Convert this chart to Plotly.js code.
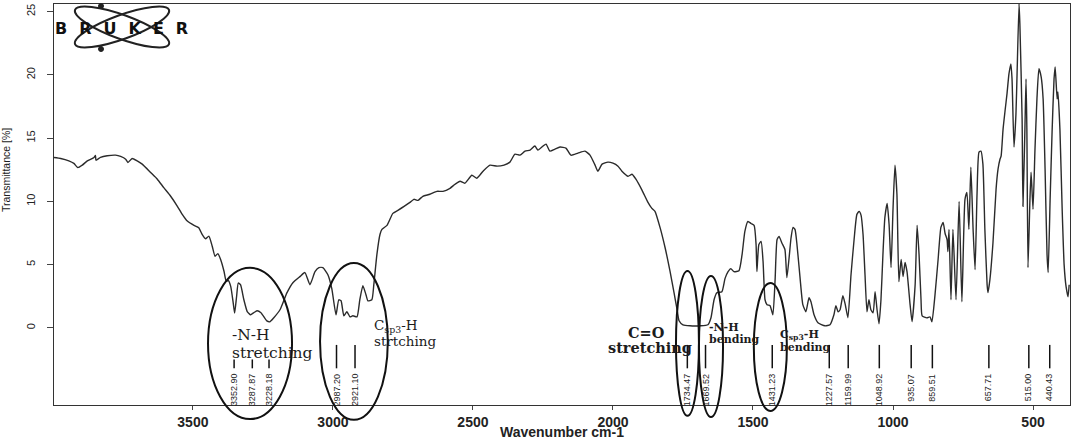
<!DOCTYPE html>
<html>
<head>
<meta charset="utf-8">
<script src="https://cdn.plot.ly/plotly-3.0.1.min.js"></script>
<style>
  html, body { margin: 0; padding: 0; background: #fff; }
  #chart { width: 1072px; height: 440px; }
</style>
</head>
<body>
<div id="chart"></div>
<script>
// FTIR spectrum
const wavenumber = [
  3996, 3972, 3943, 3925, 3911, 3895, 3877, 3853, 3848, 3846, 3830, 3806, 3776, 3758, 3740, 3732,
  3717, 3699, 3681, 3651, 3627, 3604, 3580, 3556, 3538, 3520, 3496, 3479, 3467, 3455, 3443, 3431,
  3421, 3411, 3401, 3389, 3381, 3374, 3365, 3356, 3351, 3344, 3338, 3330, 3318, 3306, 3294, 3289,
  3271, 3257, 3236, 3225, 3211, 3189, 3164, 3143, 3118, 3100, 3082, 3064, 3050, 3036, 3018, 3004,
  2989, 2979, 2971, 2961, 2950, 2939, 2929, 2914, 2904, 2893, 2882, 2875, 2861, 2854, 2843, 2832,
  2825, 2807, 2786, 2768, 2746, 2725, 2711, 2696, 2679, 2654, 2629, 2607, 2582, 2564, 2546, 2529,
  2504, 2486, 2464, 2439, 2414, 2389, 2368, 2350, 2332, 2314, 2296, 2279, 2268, 2250, 2239, 2225,
  2207, 2189, 2168, 2150, 2125, 2100, 2082, 2064, 2054, 2039, 2018, 2000, 1982, 1968, 1946, 1932,
  1918, 1896, 1875, 1861, 1850, 1832, 1814, 1796, 1782, 1771, 1764, 1750, 1725, 1689, 1661, 1650,
  1639, 1629, 1611, 1600, 1589, 1579, 1568, 1550, 1539, 1529, 1518, 1507, 1496, 1489, 1486, 1479,
  1471, 1464, 1457, 1450, 1439, 1429, 1421, 1414, 1407, 1396, 1386, 1379, 1371, 1364, 1357, 1350,
  1343, 1332, 1322, 1311, 1300, 1293, 1282, 1268, 1243, 1225, 1211, 1204, 1196, 1189, 1179, 1171,
  1161, 1150, 1139, 1129, 1121, 1114, 1107, 1100, 1093, 1086, 1079, 1071, 1064, 1057, 1050, 1043,
  1036, 1029, 1021, 1014, 1007, 1000, 993, 986, 979, 971, 964, 957, 950, 939, 932, 921,
  914, 907, 900, 896, 879, 868, 861, 850, 839, 829, 821, 814, 807, 804, 800, 793,
  786, 775, 764, 754, 743, 736, 729, 722, 714, 707, 700, 693, 686, 679, 672, 664,
  661, 654, 643, 632, 625, 618, 614, 607, 600, 593, 586, 579, 575, 568, 561, 557,
  550, 547, 539, 536, 529, 525, 522, 518, 511, 507, 500, 493, 486, 479, 471, 464,
  457, 450, 446, 439, 432, 425, 421, 414, 411, 404, 396, 389, 382, 375, 371
];
const transmittance = [
  13.47, 13.39, 13.20, 13.00, 12.67, 12.86, 13.20, 13.47, 13.62, 13.25, 13.47, 13.60, 13.65, 13.55, 13.33, 13.07,
  13.39, 13.20, 12.94, 12.28, 11.75, 11.08, 10.42, 9.63, 8.97, 8.44, 8.10, 7.91, 7.38, 7.04, 7.25, 6.45,
  5.66, 5.87, 5.40, 4.47, 3.68, 3.75, 3.28, 1.96, 1.16, 2.48, 3.54, 3.41, 2.22, 1.29, 1.03, 1.10,
  1.35, 1.20, 0.55, 0.48, 0.80, 1.43, 2.78, 3.57, 4.05, 4.37, 3.41, 4.44, 4.76, 4.76, 4.20, 3.10,
  1.03, 2.22, 2.14, 0.95, 1.27, 0.87, 0.95, 0.87, 2.22, 3.33, 2.62, 2.14, 2.22, 3.41, 5.79, 7.38,
  7.78, 8.10, 9.05, 9.29, 9.60, 9.92, 10.16, 10.08, 10.40, 10.56, 10.79, 10.79, 11.03, 11.35, 11.59, 11.43,
  12.06, 11.83, 12.38, 12.86, 12.78, 12.86, 13.10, 13.73, 13.65, 13.97, 14.05, 14.37, 14.05, 14.37, 14.52, 13.97,
  14.13, 14.29, 14.21, 13.65, 13.81, 13.97, 13.65, 12.86, 12.38, 12.94, 13.10, 13.02, 12.78, 12.38, 11.98, 12.14,
  11.75, 10.87, 9.92, 9.44, 9.21, 7.94, 6.35, 4.44, 2.78, 1.43, 0.56, 0.24, 0.16, 0.16, 0.24, 0.80,
  2.22, 2.78, 2.86, 3.89, 4.44, 4.68, 4.44, 4.52, 5.79, 7.62, 8.41, 8.25, 8.10, 6.59, 4.44, 6.59,
  6.83, 5.24, 2.22, 1.83, 1.75, 1.03, 3.81, 6.98, 7.22, 6.67, 6.19, 3.97, 5.56, 7.14, 7.94, 7.78,
  6.59, 3.97, 1.83, 1.27, 2.38, 2.06, 1.03, 0.40, 0.16, 0.24, 1.03, 1.75, 1.27, 1.43, 2.54, 1.90,
  0.80, 4.20, 6.98, 8.97, 9.21, 8.89, 7.38, 4.20, 1.27, 2.22, 1.43, 1.19, 2.86, 1.43, 0.32, 2.22,
  5.79, 8.73, 9.84, 8.17, 4.76, 9.37, 12.86, 10.56, 3.65, 5.40, 4.05, 5.16, 4.44, 1.83, 0.48, 3.41,
  8.10, 5.79, 2.22, 0.95, 0.79, 0.87, 0.48, 2.62, 5.40, 7.94, 8.33, 7.46, 6.98, 6.03, 7.78, 2.22,
  7.78, 2.22, 10.00, 2.06, 10.16, 10.71, 7.78, 12.70, 7.78, 4.60, 10.56, 13.89, 13.97, 12.94, 7.78, 3.41,
  2.78, 3.81, 6.75, 10.95, 12.54, 13.33, 13.57, 15.71, 17.14, 18.49, 20.08, 20.87, 19.68, 14.29, 16.90, 20.08,
  25.63, 24.05, 16.50, 9.60, 15.71, 19.68, 15.71, 4.76, 10.16, 12.30, 9.37, 14.13, 18.10, 20.48, 19.84, 18.10,
  12.54, 5.79, 4.37, 10.16, 15.48, 19.68, 20.63, 18.10, 18.65, 15.71, 9.37, 5.00, 3.25, 2.46, 3.41
];

// labelled peaks (cm-1)
const peakPositions = [3352.90, 3287.87, 3228.18, 2987.20, 2921.10, 1734.47, 1669.52, 1431.23,
  1227.57, 1159.99, 1048.92, 935.07, 859.51, 657.71, 515.00, 440.43];
const shortMarks = [3352.90, 3287.87, 3228.18];

// band assignments written on the chart
const bandText = ['-N-H', 'stretching', 'C<sub>sp3</sub>-H', 'strtching', 'C=O', 'stretching',
  '-N-H', 'bending', 'C<sub>sp3</sub>-H', 'bending'];
const bandX = [3368, 3368, 2861, 2861, 1879, 1868, 1664, 1664, 1411, 1411];
const bandY = [-0.56, -1.95, 0.15, -1.05, -0.40, -1.55, 0.0, -0.95, -0.55, -1.55];

// ellipses drawn round the bands: wavenumber span, paper y span
const ringLeft = [3446, 3046, 1775, 1693, 1497];
const ringRight = [3146, 2804, 1693, 1607, 1379];
const ringTop = [0.342, 0.354, 0.334, 0.322, 0.304];
const ringBottom = [-0.035, -0.037, -0.027, -0.030, -0.015];

const SANS = 'Liberation Sans, Arial, sans-serif';
const NARROW = 'Liberation Sans Narrow, Arial Narrow, Liberation Sans, sans-serif';
const SERIF = 'DejaVu Serif, Liberation Serif, serif';
const ink = '#1c1c1c';

// plot box in pixels, used only for the logo drawing
const box = { l: 54, t: 4, w: 1016, h: 401 };
function paperX(px) { return (px - box.l) / box.w; }
function paperY(py) { return (box.t + box.h - py) / box.h; }
function toPaper(px, py) {
  return paperX(px).toFixed(4) + ',' + paperY(py).toFixed(4);
}
function ellipsePath(cx, cy, a, b, deg) {
  const t = deg * Math.PI / 180, c = Math.cos(t), s = Math.sin(t), k = 0.5523;
  const pt = (u, v) => toPaper(cx + u * c - v * s, cy + u * s + v * c);
  return `M${pt(a, 0)} C${pt(a, k * b)} ${pt(k * a, b)} ${pt(0, b)} ` +
    `C${pt(-k * a, b)} ${pt(-a, k * b)} ${pt(-a, 0)} ` +
    `C${pt(-a, -k * b)} ${pt(-k * a, -b)} ${pt(0, -b)} ` +
    `C${pt(k * a, -b)} ${pt(a, -k * b)} ${pt(a, 0)} Z`;
}

const markX = [];
const markY = [];
peakPositions.forEach((p) => {
  markX.push(p, p, null);
  markY.push(shortMarks.includes(p) ? -2.5 : -1.35, -3.2, null);
});

const data = [
  {
    type: 'scatter',
    mode: 'lines',
    x: wavenumber,
    y: transmittance,
    line: { color: '#2b2b2b', width: 1.4, shape: 'spline', smoothing: 0.5 },
    hoverinfo: 'x+y',
  },
  {
    type: 'scatter',
    mode: 'lines',
    x: markX,
    y: markY,
    line: { color: '#111', width: 1.5 },
    hoverinfo: 'skip',
  },
];

const annotations = [];
peakPositions.forEach((p) => {
  annotations.push({
    x: p, y: -3.45, xref: 'x', yref: 'y', yanchor: 'top',
    text: p.toFixed(2), showarrow: false, textangle: -90,
    font: { family: NARROW, size: 9, color: ink },
  });
});
bandText.forEach((t, i) => {
  const bold = i >= 4;
  const centred = i === 4 || i === 5;
  annotations.push({
    x: bandX[i], y: bandY[i], xref: 'x', yref: 'y',
    text: bold ? `<b>${t}</b>` : t, showarrow: false,
    xanchor: centred ? 'center' : 'left', yanchor: 'middle',
    font: {
      family: SERIF,
      size: i < 2 ? 15.5 : i < 4 ? 13.5 : i < 6 ? 14.5 : 11,
      color: ink,
    },
  });
});
annotations.push({
  x: paperX(6), y: paperY(170), xref: 'paper', yref: 'paper',
  xanchor: 'center', yanchor: 'middle',
  text: 'Transmittance [%]', textangle: -90,
  showarrow: false, font: { family: SANS, size: 10.5, color: ink },
});
annotations.push({
  x: paperX(121), y: paperY(28), xref: 'paper', yref: 'paper',
  xanchor: 'center', yanchor: 'middle', showarrow: false,
  text: '<b>B\u2002\u2005R\u2002\u2005U\u2002\u2005K\u2002\u2005E\u2002\u2005R</b>',
  font: { family: 'DejaVu Sans, sans-serif', size: 16, color: '#111' },
});

const shapes = ringLeft.map((l, i) => ({
  type: 'circle', xref: 'x', yref: 'paper',
  x0: l, x1: ringRight[i], y0: ringBottom[i], y1: ringTop[i],
  line: { color: '#111', width: 2 },
}));
shapes.push(
  { type: 'path', xref: 'paper', yref: 'paper', path: ellipsePath(122, 27, 50, 12, 20), line: { color: '#222', width: 2 } },
  { type: 'path', xref: 'paper', yref: 'paper', path: ellipsePath(122, 27, 50, 12, -20), line: { color: '#222', width: 2 } },
);
[[101, 6], [101, 49]].forEach(([px, py]) => {
  shapes.push({
    type: 'circle', xref: 'paper', yref: 'paper',
    x0: paperX(px - 2.5), x1: paperX(px + 2.5), y0: paperY(py + 2.5), y1: paperY(py - 2.5),
    fillcolor: '#222', line: { color: '#222', width: 1 },
  });
});

const layout = {
  width: 1072,
  height: 440,
  margin: { l: 54, r: 2, t: 4, b: 35 },
  paper_bgcolor: '#fff',
  plot_bgcolor: '#fff',
  showlegend: false,
  font: { family: SANS, color: ink },
  xaxis: {
    range: [3996, 368],
    tickvals: [3500, 3000, 2500, 2000, 1500, 1000, 500],
    ticks: 'outside',
    ticklen: 4,
    tickcolor: '#444',
    tickfont: { family: SANS, size: 14, color: '#222', weight: 'bold' },
    showgrid: false,
    zeroline: false,
    showline: true,
    linecolor: '#333',
    mirror: true,
    title: { text: 'Wavenumber cm-1', font: { family: SANS, size: 14, color: '#222', weight: 'bold' }, standoff: 1 },
  },
  yaxis: {
    range: [-6.1, 25.6],
    tickvals: [0, 5, 10, 15, 20, 25],
    ticks: 'outside',
    ticklen: 6,
    tickcolor: '#444',
    tickangle: -90,
    ticklabelstandoff: 8,
    tickfont: { family: SANS, size: 11, color: '#222' },
    showgrid: false,
    zeroline: false,
    showline: true,
    linecolor: '#333',
    mirror: true,
  },
  annotations,
  shapes,
};

Plotly.newPlot('chart', data, layout, { staticPlot: true, displayModeBar: false });
</script>
</body>
</html>
